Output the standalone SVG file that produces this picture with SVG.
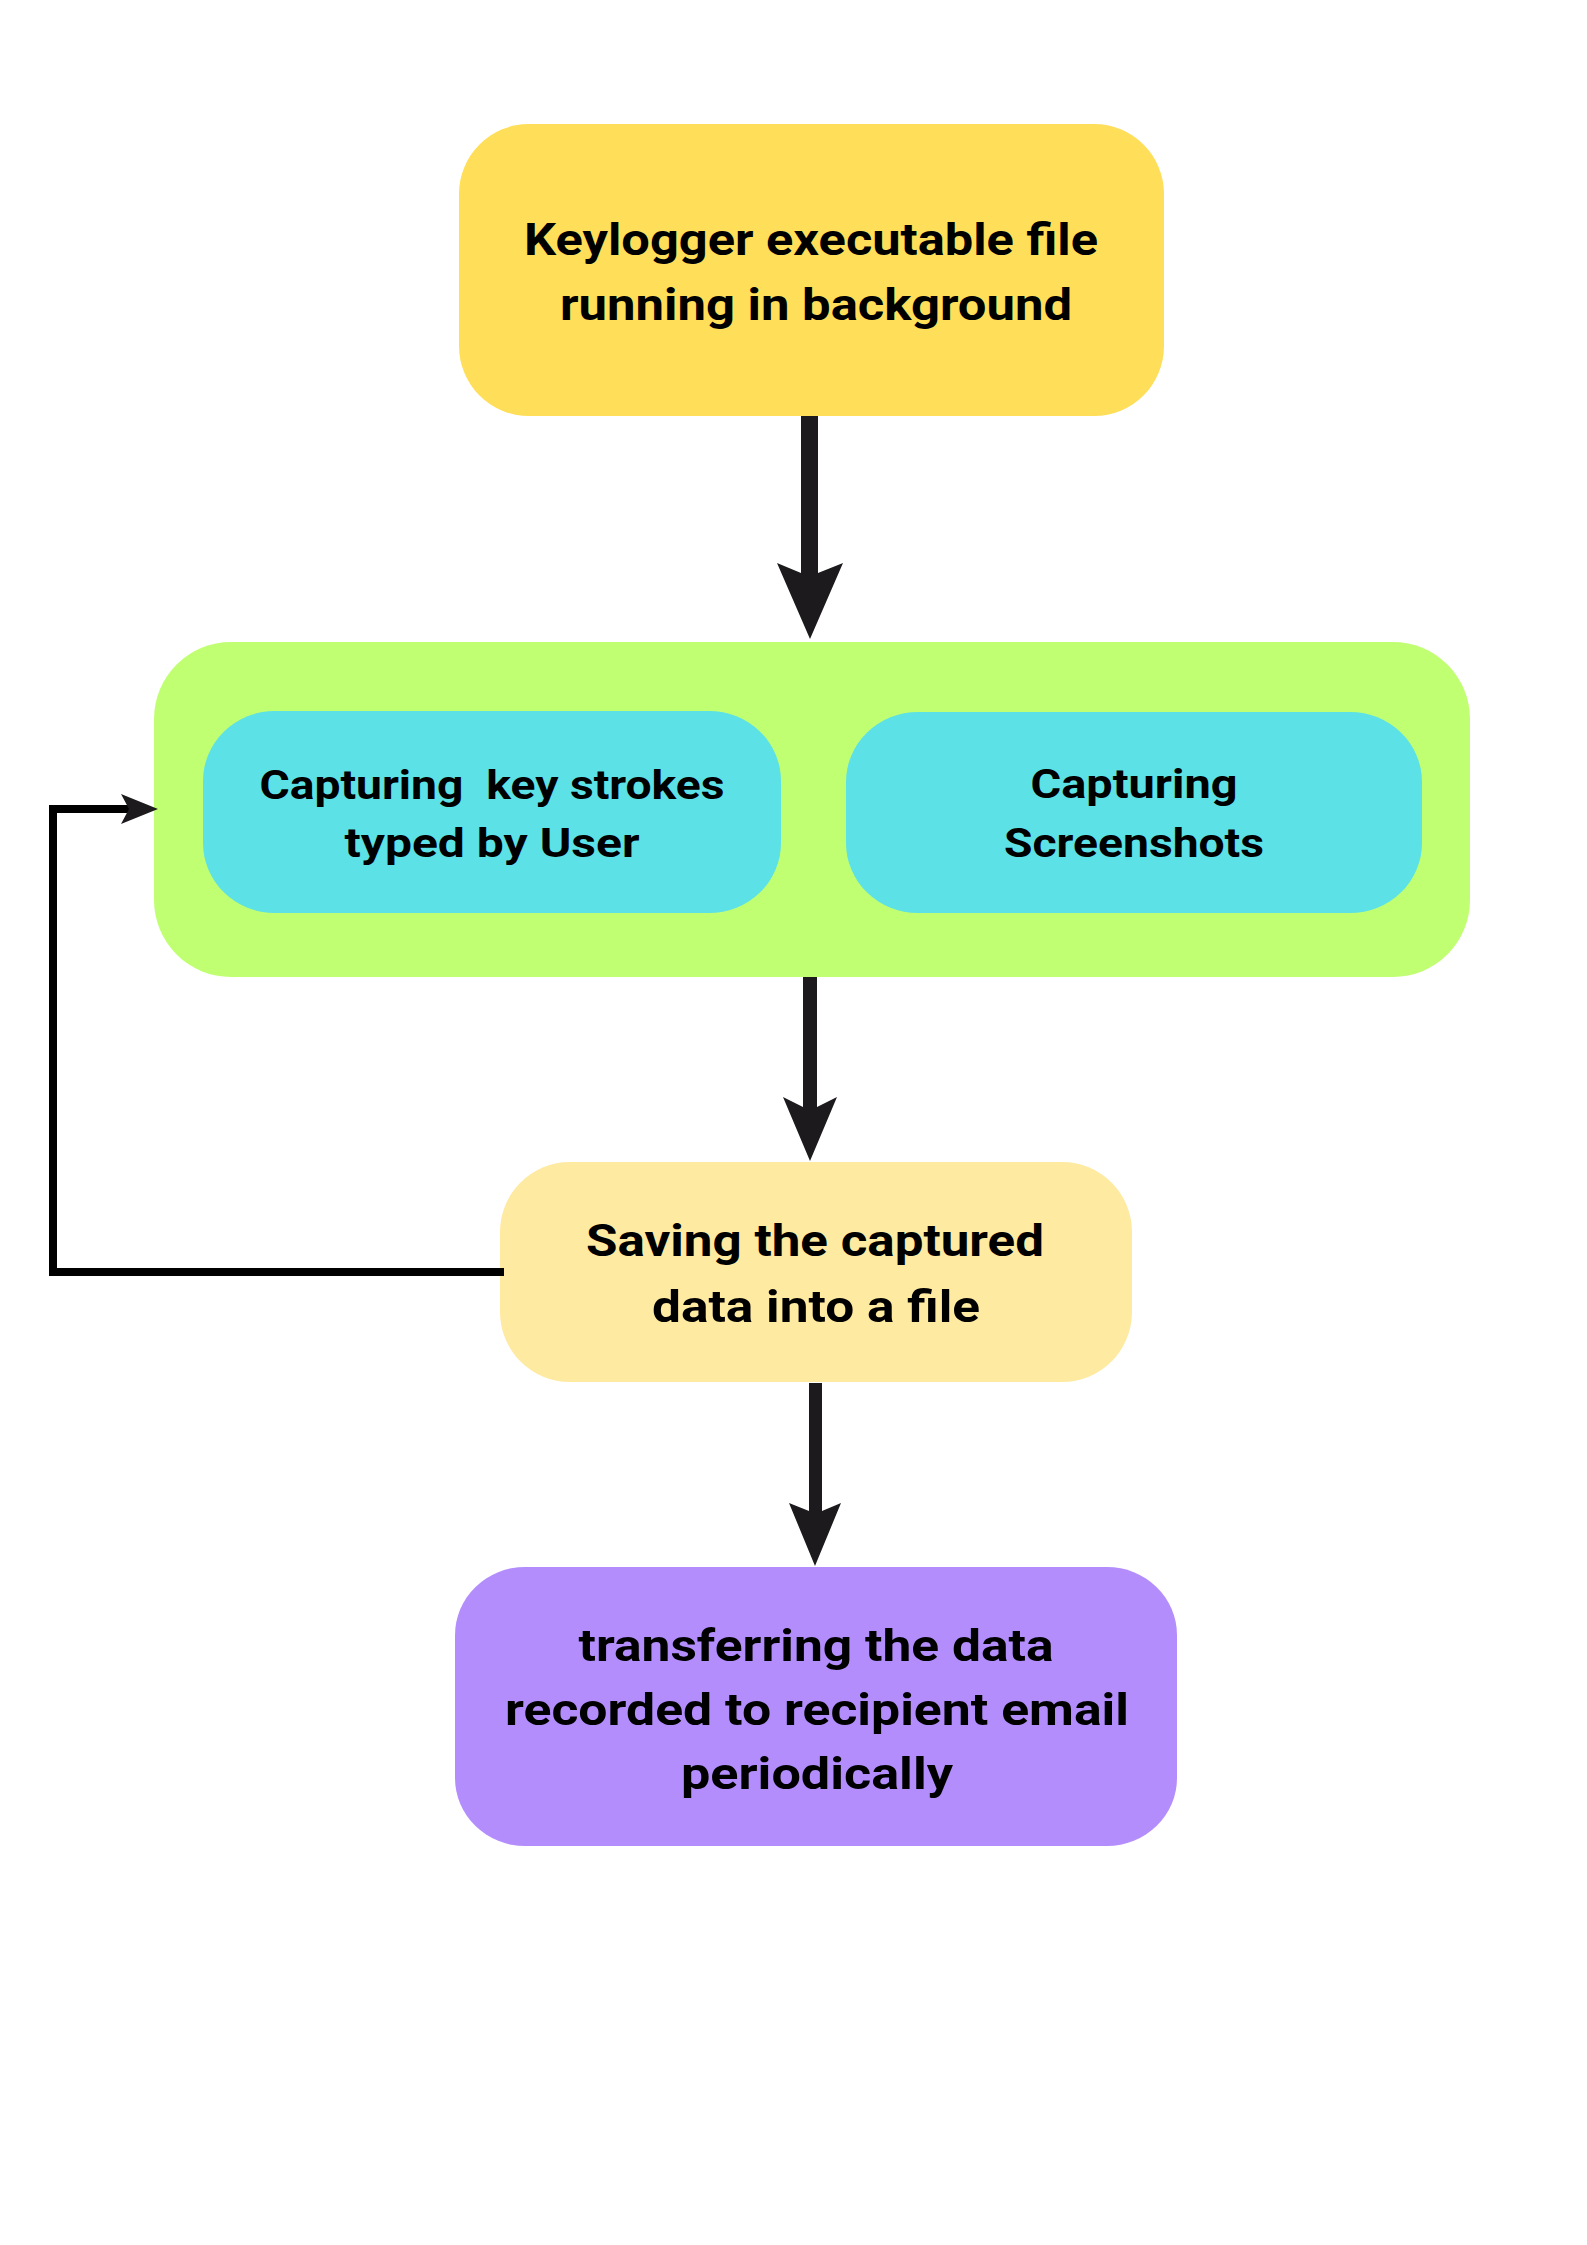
<svg xmlns="http://www.w3.org/2000/svg" width="1587" height="2245" viewBox="0 0 1587 2245">
  <style>
    .lbl { font-family: Roboto, "Liberation Sans", "DejaVu Sans", sans-serif; font-weight: 700; fill: #000; text-anchor: middle; }
    .big { font-size: 45px; }
    .mid { font-size: 41px; }
    .shaft { fill: #1c1a1d; }
    .loop { fill: none; stroke: #000; stroke-width: 8; stroke-linejoin: miter; stroke-linecap: square; }
  </style>
  <rect width="1587" height="2245" fill="#ffffff"/>

  <g id="node-keylogger">
    <rect x="459" y="124" width="705" height="292" rx="70" ry="70" fill="#FFDE59"/>
    <text class="lbl big" x="811" y="255" textLength="574" lengthAdjust="spacingAndGlyphs">Keylogger executable file</text>
    <text class="lbl big" x="816" y="320" textLength="512" lengthAdjust="spacingAndGlyphs">running in background</text>
  </g>

  <g id="node-capture-group">
    <rect x="154" y="642" width="1316" height="335" rx="77" ry="77" fill="#C1FF72"/>
  </g>

  <g id="node-keystrokes">
    <rect x="203" y="711" width="578" height="202" rx="72" ry="70" fill="#5CE1E6"/>
    <text class="lbl mid" x="492" y="799" textLength="465" lengthAdjust="spacingAndGlyphs" xml:space="preserve">Capturing  key strokes</text>
    <text class="lbl mid" x="492" y="857" textLength="295" lengthAdjust="spacingAndGlyphs">typed by User</text>
  </g>

  <g id="node-screenshots">
    <rect x="846" y="712" width="576" height="201" rx="72" ry="70" fill="#5CE1E6"/>
    <text class="lbl mid" x="1134" y="798" textLength="207" lengthAdjust="spacingAndGlyphs">Capturing</text>
    <text class="lbl mid" x="1134" y="857" textLength="260" lengthAdjust="spacingAndGlyphs">Screenshots</text>
  </g>

  <g id="node-saving">
    <rect x="500" y="1162" width="632" height="220" rx="70" ry="70" fill="#FFEAA1"/>
    <text class="lbl big" x="815" y="1256" textLength="458" lengthAdjust="spacingAndGlyphs">Saving the captured</text>
    <text class="lbl big" x="816" y="1322" textLength="328" lengthAdjust="spacingAndGlyphs">data into a file</text>
  </g>

  <g id="node-transfer">
    <rect x="455" y="1567" width="722" height="279" rx="70" ry="68" fill="#B48DFD"/>
    <text class="lbl big" x="816" y="1661" textLength="475" lengthAdjust="spacingAndGlyphs">transferring the data</text>
    <text class="lbl big" x="817" y="1725" textLength="624" lengthAdjust="spacingAndGlyphs">recorded to recipient email</text>
    <text class="lbl big" x="817" y="1789" textLength="272" lengthAdjust="spacingAndGlyphs">periodically</text>
  </g>

  <g id="connectors">
    <path class="shaft" d="M 801 416 H 818 V 573 L 843 563 L 810 639 L 777 563 L 801 573 Z"/>
    <path class="shaft" d="M 803 977 H 817 V 1107 L 837 1097 L 810 1161 L 783 1097 L 803 1107 Z"/>
    <path class="shaft" d="M 809 1383 H 822 V 1511 L 841 1503 L 815 1566 L 789 1503 L 809 1511 Z"/>
    <path class="loop" d="M 500 1272 H 53 V 809 H 128"/>
    <path class="shaft" d="M 158 809 L 121 794 L 129 809 L 121 824 Z"/>
  </g>
</svg>
